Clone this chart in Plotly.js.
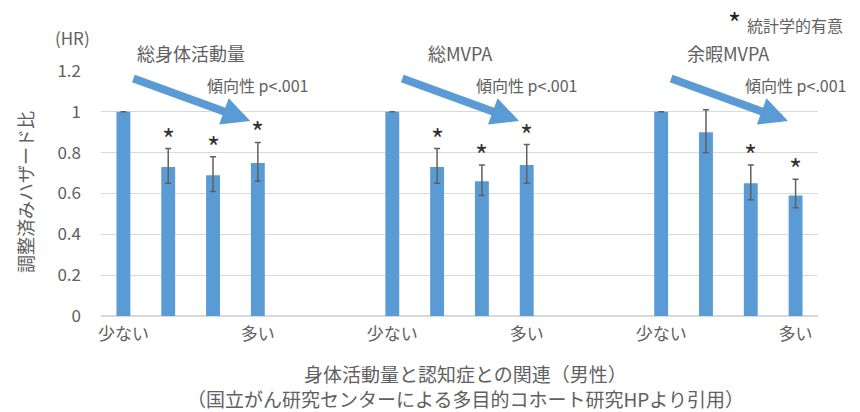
<!DOCTYPE html>
<html>
<head>
<meta charset="utf-8">
<script src="https://cdn.plot.ly/plotly-3.0.1.min.js"></script>
<style>html,body{margin:0;padding:0;background:#fff;}#chart{width:860px;height:412px;}</style>
</head>
<body>
<div id="chart"></div>
<script>
// ---- data ----
const groupNames = ['総身体活動量', '総MVPA', '余暇MVPA'];
const levelLabels = ['少ない', '', '', '多い'];
const hrTotal   = [1, 0.73, 0.69, 0.75];
const upTotal   = [null, 0.82, 0.78, 0.85];
const loTotal   = [null, 0.65, 0.61, 0.66];
const sigTotal  = [false, true, true, true];
const hrMVPA    = [1, 0.73, 0.66, 0.74];
const upMVPA    = [null, 0.82, 0.74, 0.84];
const loMVPA    = [null, 0.65, 0.59, 0.65];
const sigMVPA   = [false, true, true, true];
const hrLeisure = [1, 0.90, 0.65, 0.59];
const upLeisure = [null, 1.01, 0.74, 0.67];
const loLeisure = [null, 0.80, 0.57, 0.53];
const sigLeisure = [false, false, true, true];
const trendText = '傾向性 p<.001';
const yTicks = [0, 0.2, 0.4, 0.6, 0.8, 1, 1.2];
const yTickText = ['0', '0.2', '0.4', '0.6', '0.8', '1', '1.2'];
const captionLine1 = '身体活動量と認知症との関連（男性）';
const captionLine2 = '（国立がん研究センターによる多目的コホート研究HPより引用）';

// ---- build ----
const FONT = '"Noto Sans CJK JP", "Noto Sans", sans-serif';
const GRAY = '#606060';
const BLUE = '#5B9BD5';
const STEP = 6; // slots per group (4 bars + 2 gaps)

const series = [
  {hr: hrTotal, up: upTotal, lo: loTotal, sig: sigTotal},
  {hr: hrMVPA, up: upMVPA, lo: loMVPA, sig: sigMVPA},
  {hr: hrLeisure, up: upLeisure, lo: loLeisure, sig: sigLeisure}
];

const xs = [], ys = [], ePlus = [], eMinus = [];
const tickvals = [], ticktext = [];
const annotations = [];

series.forEach((s, g) => {
  s.hr.forEach((v, i) => {
    const x = g * STEP + i;
    xs.push(x); ys.push(v);
    ePlus.push(s.up[i] == null ? 0 : s.up[i] - v);
    eMinus.push(s.lo[i] == null ? 0 : v - s.lo[i]);
    if (levelLabels[i]) { tickvals.push(x); ticktext.push(levelLabels[i]); }
    if (s.sig[i]) {
      annotations.push({
        x: x, y: s.up[i], xref: 'x', yref: 'y', text: '*', showarrow: false,
        xanchor: 'center', yanchor: 'bottom', yshift: -11,
        font: {family: FONT, size: 28, color: '#333'}
      });
    }
  });
  // group title
  annotations.push({
    x: g * STEP + 1.5, y: 1.2, xref: 'x', yref: 'y', text: groupNames[g], showarrow: false,
    xanchor: 'center', yanchor: 'middle', yshift: 18, font: {family: FONT, size: 18, color: GRAY}
  });
  // trend text
  annotations.push({
    x: g * STEP + 3, y: 1.13, xref: 'x', yref: 'y', text: trendText, showarrow: false,
    xanchor: 'center', yanchor: 'middle', font: {family: FONT, size: 16, color: GRAY}
  });
  // trend arrow
  annotations.push({
    x: g * STEP + 2.83, y: 0.955, ax: g * STEP + 0.19, ay: 1.166,
    xref: 'x', yref: 'y', axref: 'x', ayref: 'y', text: '', showarrow: true,
    arrowhead: 2, arrowwidth: 8, arrowsize: 0.7, arrowcolor: BLUE, standoff: 0
  });
});

const P = (o) => Object.assign({xref: 'paper', yref: 'paper', showarrow: false,
  xanchor: 'center', yanchor: 'middle'}, o);

annotations.push(P({x: -0.04, y: 1.135, text: '(HR)',
  font: {family: FONT, size: 17, color: GRAY}}));
annotations.push(P({x: -0.106, y: 0.506, text: '調整済みハザード比', textangle: -90,
  font: {family: FONT, size: 18, color: GRAY}}));
annotations.push(P({x: 1.038, xanchor: 'right', y: 1.188, text: '統計学的有意',
  font: {family: FONT, size: 16, color: GRAY}}));
annotations.push(P({x: 0.883, y: 1.2, text: '*',
  font: {family: FONT, size: 28, color: '#222'}}));
annotations.push(P({x: 0.508, y: -0.2857, borderpad: 0,
  text: captionLine1 + '<br>' + captionLine2,
  font: {family: FONT, size: 19, color: GRAY}}));

const trace = {
  type: 'bar', x: xs, y: ys, width: 0.31,
  marker: {color: BLUE},
  error_y: {type: 'data', symmetric: false, array: ePlus, arrayminus: eMinus,
            color: GRAY, thickness: 1.5, width: 3},
  hoverinfo: 'none'
};

const layout = {
  width: 860, height: 412,
  margin: {l: 101, r: 42, t: 71, b: 96},
  paper_bgcolor: '#fff', plot_bgcolor: '#fff',
  showlegend: false,
  font: {family: FONT, color: GRAY},
  xaxis: {
    range: [-0.5, 15.5], tickvals: tickvals, ticktext: ticktext,
    showgrid: false, zeroline: false, showline: false, ticks: '',
    tickfont: {family: FONT, size: 17, color: GRAY}, ticklabelstandoff: 6
  },
  yaxis: {
    range: [0, 1.2], tickvals: yTicks, ticktext: yTickText,
    showgrid: true, gridcolor: '#D9D9D9', gridwidth: 1.3, zeroline: true, zerolinecolor: '#D9D9D9', zerolinewidth: 1.3,
    showline: false, ticks: '', ticklabelstandoff: 19,
    tickfont: {family: FONT, size: 17, color: GRAY}
  },
  annotations: annotations
};

Plotly.newPlot('chart', [trace], layout, {displayModeBar: false, staticPlot: true});
</script>
</body>
</html>
